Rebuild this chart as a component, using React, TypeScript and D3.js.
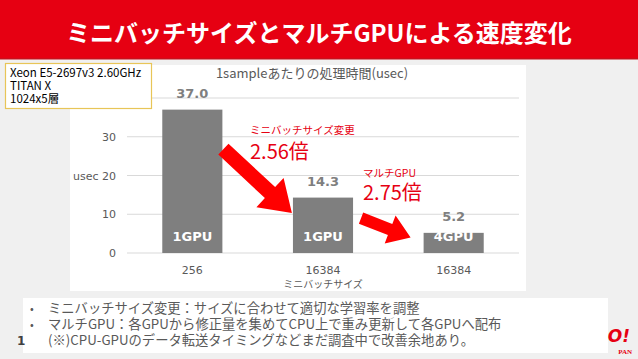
import React from "react";
import * as d3 from "d3";

const categories = ["256", "16384", "16384 "];
const xTickLabels = ["256", "16384", "16384"];
const values = [37.0, 14.3, 5.2];
const valueLabels = ["37.0", "14.3", "5.2"];
const gpuLabels = ["1GPU", "1GPU", "4GPU"];
const yTicks = [0, 10, 20, 30, 40];
const infoLines = ["Xeon E5-2697v3 2.60GHz", "TITAN X", "1024x5層"];
const bullets = [
  { bullet: true, text: "ミニバッチサイズ変更：サイズに合わせて適切な学習率を調整" },
  { bullet: true, text: "マルチGPU：各GPUから修正量を集めてCPU上で重み更新して各GPUへ配布" },
  { bullet: false, text: "(※)CPU-GPUのデータ転送タイミングなどまだ調査中で改善余地あり。" },
];

const W = 638;
const H = 359;
const JP = "'Noto Sans CJK JP', 'Noto Sans', sans-serif";
const LAT = "'DejaVu Sans', 'Noto Sans CJK JP', sans-serif";
const RED = "#e60012";

function arrowPath(x1: number, y1: number, x2: number, y2: number, sw: number, hw: number, hl: number) {
  const dx = x2 - x1, dy = y2 - y1;
  const len = Math.sqrt(dx * dx + dy * dy);
  const ux = dx / len, uy = dy / len;
  const px = -uy, py = ux;
  const bx = x2 - ux * hl, by = y2 - uy * hl;
  const pts: [number, number][] = [
    [x1 + px * sw / 2, y1 + py * sw / 2],
    [bx + px * sw / 2, by + py * sw / 2],
    [bx + px * hw / 2, by + py * hw / 2],
    [x2, y2],
    [bx - px * hw / 2, by - py * hw / 2],
    [bx - px * sw / 2, by - py * sw / 2],
    [x1 - px * sw / 2, y1 - py * sw / 2],
  ];
  return "M" + pts.map((p) => p[0].toFixed(1) + "," + p[1].toFixed(1)).join("L") + "Z";
}

export default function App() {
  const x = d3.scaleBand<string>().domain(categories).range([127, 519]).paddingInner(0.54).paddingOuter(0.27);
  const y = d3.scaleLinear().domain([0, 40]).range([253, 98]);
  const bw = x.bandwidth();
  const xs = categories.map((c) => x(c) as number);

  const a1 = arrowPath(xs[0] + bw + 1, y(26.8), xs[1] - 1, y(10.3), 15, 40, 30);
  const a2 = arrowPath(xs[1] + bw + 8, y(9), xs[2] - 13, y(4), 12, 30, 22);

  return (
    <svg width={W} height={H} style={{ position: "absolute", left: 0, top: 0 }}>
      <rect x={0} y={0} width={W} height={H} fill="#f0f0f0" />
      <rect x={0} y={0} width={W} height={59} fill={RED} />
      <rect x={0} y={58} width={W} height={1.5} fill="#c8101c" />
      <text x={319} y={42} textAnchor="middle" fill="#fff" fontSize={24} fontWeight="bold" fontFamily={JP}>
        ミニバッチサイズとマルチGPUによる速度変化
      </text>

      {/* chart panel */}
      <rect x={70} y={65} width={456} height={226} fill="#fff" />
      <text x={312} y={78} textAnchor="middle" fill="#595959" fontSize={13} fontFamily={JP}>
        1sampleあたりの処理時間(usec)
      </text>

      {yTicks.map((t) => (
        <g key={t}>
          <line x1={127} x2={519} y1={y(t)} y2={y(t)} stroke="#d9d9d9" strokeWidth={1} />
          {t < 40 && (
            <text x={116} y={y(t) + 4} textAnchor="end" fill="#595959" fontSize={11} fontFamily={LAT}>
              {t}
            </text>
          )}
        </g>
      ))}
      <text x={73} y={y(20) + 4} fill="#595959" fontSize={11} fontFamily={LAT}>usec</text>

      {values.map((v, i) => (
        <g key={i}>
          <rect x={xs[i]} y={y(v)} width={bw} height={y(0) - y(v)} fill="#7f7f7f" />
          <text x={xs[i] + bw / 2} y={y(v) - 12} textAnchor="middle" fill="#7f7f7f" fontSize={13} fontWeight="bold" fontFamily={LAT}>
            {valueLabels[i]}
          </text>
          <text x={xs[i] + bw / 2} y={y(0) - 12} textAnchor="middle" fill="#fff" fontSize={13} fontWeight="bold" fontFamily={LAT}>
            {gpuLabels[i]}
          </text>
          <text x={xs[i] + bw / 2} y={274} textAnchor="middle" fill="#595959" fontSize={11} fontFamily={LAT}>
            {xTickLabels[i]}
          </text>
        </g>
      ))}
      <text x={xs[1] + bw / 2} y={288} textAnchor="middle" fill="#595959" fontSize={10} fontFamily={JP}>
        ミニバッチサイズ
      </text>

      <path d={a1} fill="#ff0000" />
      <path d={a2} fill="#ff0000" />

      <text x={250} y={134} fill={RED} fontSize={10.5} fontFamily={JP}>ミニバッチサイズ変更</text>
      <text x={250} y={159} fill={RED} fontSize={20} fontFamily={JP}>2.56倍</text>
      <text x={363} y={177} fill={RED} fontSize={10.5} fontFamily={JP}>マルチGPU</text>
      <text x={363} y={200} fill={RED} fontSize={20} fontFamily={JP}>2.75倍</text>

      {/* info box */}
      <rect x={5.5} y={63.5} width={146} height={45} fill="#fff" stroke="#e8c558" strokeWidth={1.2} />
      {infoLines.map((l, i) => (
        <text key={i} x={10} y={77 + i * 13} fill="#000" fontSize={11.5} fontFamily={JP}>
          {l}
        </text>
      ))}

      {/* bullet box */}
      <rect x={23} y={298} width={585} height={55} fill="#fff" />
      {bullets.map((b, i) => (
        <g key={i}>
          {b.bullet && (
            <text x={30} y={313 + i * 16} fill="#595959" fontSize={11} fontFamily={JP}>•</text>
          )}
          <text x={48} y={313 + i * 16} fill="#595959" fontSize={13.3} fontFamily={JP}>
            {b.text}
          </text>
        </g>
      ))}
      <text x={17} y={345} fill="#404040" fontSize={12} fontWeight="bold" fontFamily={LAT}>1</text>

      <text x={630} y={342} textAnchor="end" fill={RED} fontSize={17} fontWeight="bold" fontStyle="italic" fontFamily={LAT}>O!</text>
      <text x={632} y={354} textAnchor="end" fill={RED} fontSize={7} fontWeight="bold" fontFamily="'Liberation Serif', serif">PAN</text>
    </svg>
  );
}
